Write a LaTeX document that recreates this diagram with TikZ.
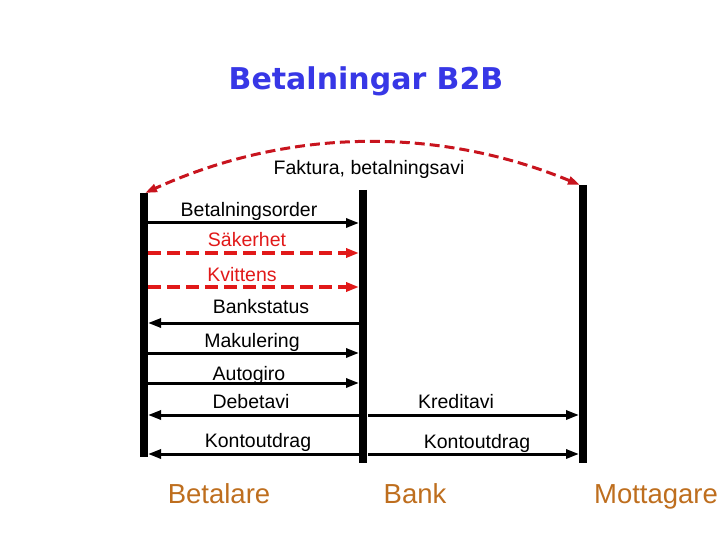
\documentclass[tikz,border=0pt]{standalone}
\usepackage{fontspec}
\setmainfont{Liberation Sans}
\newfontfamily\ttlfamily{DejaVu Sans}
\usetikzlibrary{arrows.meta}
\definecolor{titleblue}{RGB}{55,55,230}
\definecolor{msgred}{RGB}{225,25,25}
\definecolor{arcred}{RGB}{200,20,30}
\definecolor{actorbrown}{RGB}{190,110,30}
\newcommand\lblfont{\fontsize{19.5}{22}\selectfont}
\newcommand\actfont{\fontsize{27.5}{30}\selectfont}
\newcommand\ttlfont{\ttlfamily\bfseries\fontsize{30}{34}\selectfont}
\tikzset{
  lifeline/.style={line width=8pt, line cap=butt},
  msg/.style={line width=3pt, -{Triangle[length=13pt,width=9pt]}},
  rmsg/.style={line width=3pt, {Triangle[length=13pt,width=9pt]}-},
  redmsg/.style={line width=3.5pt, draw=msgred, dash pattern=on 13pt off 6pt, -{Triangle[length=13pt,width=9pt]}},
  arcmsg/.style={line width=3pt, draw=arcred, dash pattern=on 10pt off 5pt, {Triangle[length=12pt,width=8pt]}-{Triangle[length=12pt,width=8pt]}},
  lbl/.style={anchor=base, inner sep=0pt, font=\lblfont},
  redlbl/.style={lbl, text=msgred},
  actor/.style={anchor=base, inner sep=0pt, font=\actfont, text=actorbrown},
}
\begin{document}
\begin{tikzpicture}[x=1pt,y=-1pt]
\useasboundingbox (0,0) rectangle (720,540);
% title
\node[anchor=base, inner sep=0pt, font=\ttlfont, text=titleblue] (title) at (366,90) {Betalningar B2B};
% lifelines
\coordinate (Ltop) at (144,193); \coordinate (Lbot) at (144,457);
\coordinate (Mtop) at (363,190); \coordinate (Mbot) at (363,463);
\coordinate (Rtop) at (583,185); \coordinate (Rbot) at (583,463);
\draw[lifeline] (Ltop) -- (Lbot);
\draw[lifeline] (Mtop) -- (Mbot);
\draw[lifeline] (Rtop) -- (Rbot);
% edges of lifelines
\coordinate (Le) at (148,0);
\coordinate (Mw) at (359,0);
\coordinate (Me) at (368,0);
\coordinate (Rw) at (579,0);
% rows
\coordinate (r1) at (0,223);
\coordinate (r2) at (0,253);
\coordinate (r3) at (0,287);
\coordinate (r4) at (0,323);
\coordinate (r5) at (0,353);
\coordinate (r6) at (0,383);
\coordinate (r7) at (0,415);
\coordinate (r8) at (0,454);
% arc
\coordinate (arcL) at (145,193);
\coordinate (arcR) at (580,185);
\draw[arcmsg] (arcR) .. controls (440,127) and (290,127) .. (arcL);
\node[lbl] (faktura) at (369,175) {Faktura, betalningsavi};
% messages
\draw[msg] (Le |- r1) -- (Mw |- r1);
\node[lbl] (m1) at (249,217) {Betalningsorder};
\draw[redmsg] (Le |- r2) -- (Mw |- r2);
\node[redlbl] (m2) at (247,247) {Säkerhet};
\draw[redmsg] (Le |- r3) -- (Mw |- r3);
\node[redlbl] (m3) at (242,281) {Kvittens};
\draw[rmsg] (Le |- r4) -- (Mw |- r4);
\node[lbl] (m4) at (261,313) {Bankstatus};
\draw[msg] (Le |- r5) -- (Mw |- r5);
\node[lbl] (m5) at (252,347) {Makulering};
\draw[msg] (Le |- r6) -- (Mw |- r6);
\node[lbl] (m6) at (249,380) {Autogiro};
\draw[rmsg] (Le |- r7) -- (Mw |- r7);
\node[lbl] (m7) at (251,408) {Debetavi};
\draw[rmsg] (Le |- r8) -- (Mw |- r8);
\node[lbl] (m8) at (258,447) {Kontoutdrag};
\draw[msg] (Me |- r7) -- (Rw |- r7);
\node[lbl] (m9) at (456,408) {Kreditavi};
\draw[msg] (Me |- r8) -- (Rw |- r8);
\node[lbl] (m10) at (477,448) {Kontoutdrag};
% actors
\node[actor] (betalare) at (219,503) {Betalare};
\node[actor] (bank) at (415,503) {Bank};
\node[actor] (mottagare) at (656,503) {Mottagare};
\end{tikzpicture}
\end{document}
